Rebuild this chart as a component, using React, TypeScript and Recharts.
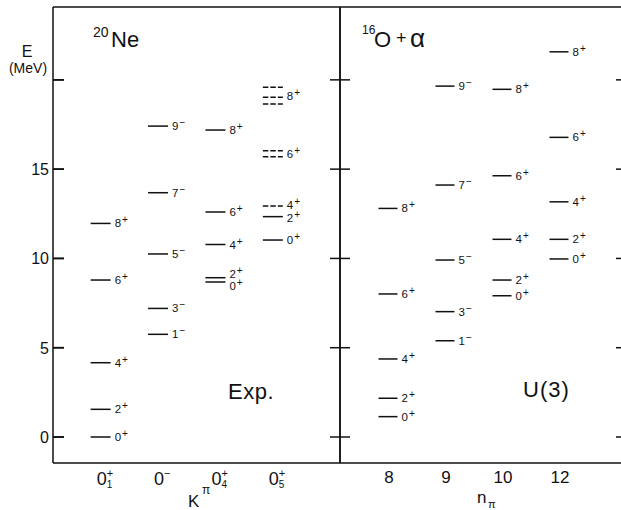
import React from 'react';
import { ComposedChart, Scatter, XAxis, YAxis } from 'recharts';

const kPiMain = ['0', '0', '0', '0'];
const kPiSup = ['+', '−', '+', '+'];
const kPiSub = ['1', '', '4', '5'];

const exp01Energy = [0, 1.55, 4.16, 8.79, 11.96];
const exp01Spin = ['0+', '2+', '4+', '6+', '8+'];
const exp0mEnergy = [5.75, 7.2, 10.25, 13.68, 17.41];
const exp0mSpin = ['1-', '3-', '5-', '7-', '9-'];
const exp04Energy = [8.68, 8.92, 10.78, 12.6, 17.19];
const exp04Spin = ['0+', '2+', '4+', '6+', '8+'];
// 0_5^+ band: the tentative members have several candidate levels
const exp05Energy = [[11.03], [12.34], [12.93], [15.69, 16.03], [18.65, 19.02, 19.58]];
const exp05Spin = ['0+', '2+', '4+', '6+', '8+'];
const exp05Tentative = [false, false, true, true, true];

// 16O + alpha, U(3) limit, grouped by n_pi
const nPiLabels = ['8', '9', '10', '12'];
const n8Energy = [1.14, 2.17, 4.37, 8.01, 12.8];
const n8Spin = ['0+', '2+', '4+', '6+', '8+'];
const n9Energy = [5.39, 7.02, 9.91, 14.11, 19.65];
const n9Spin = ['1-', '3-', '5-', '7-', '9-'];
const n10Energy = [7.91, 8.79, 11.07, 14.63, 19.47];
const n10Spin = ['0+', '2+', '4+', '6+', '8+'];
const n12Energy = [9.97, 11.07, 13.17, 16.78, 21.57];
const n12Spin = ['0+', '2+', '4+', '6+', '8+'];

const energyTicks = [0, 5, 10, 15, 20];
const yDomain = [-1.456, 24.08];

const FONT = '"Liberation Sans", Arial, sans-serif';
const INK = '#111';

type Line = { x: number; E: number; dashed: boolean };
type Tag = { x: number; E: number; spin: string };

function buildBand(x: number, energies: (number | number[])[], spins: string[], tentative?: boolean[]) {
  const lines: Line[] = [];
  const tags: Tag[] = [];
  energies.forEach((e, i) => {
    const list = Array.isArray(e) ? e : [e];
    list.forEach((v) => lines.push({ x, E: v, dashed: !!(tentative && tentative[i]) }));
    tags.push({ x, E: list.reduce((a, b) => a + b, 0) / list.length, spin: spins[i] });
  });
  // keep labels of close-lying levels from overlapping
  tags.sort((a, b) => a.E - b.E);
  const minGap = 0.7;
  for (let i = 1; i < tags.length; i++) {
    const gap = tags[i].E - tags[i - 1].E;
    if (gap < minGap) {
      const push = (minGap - gap) / 2;
      tags[i - 1].E -= push;
      tags[i].E += push;
    }
  }
  return { lines, tags };
}

function merge(bands: { lines: Line[]; tags: Tag[] }[]) {
  return {
    lines: bands.flatMap((b) => b.lines),
    tags: bands.flatMap((b) => b.tags),
  };
}

const expData = merge([
  buildBand(1, exp01Energy, exp01Spin),
  buildBand(2, exp0mEnergy, exp0mSpin),
  buildBand(3, exp04Energy, exp04Spin),
  buildBand(4, exp05Energy, exp05Spin, exp05Tentative),
]);

const u3Data = merge([
  buildBand(1, n8Energy, n8Spin),
  buildBand(2, n9Energy, n9Spin),
  buildBand(3, n10Energy, n10Spin),
  buildBand(4, n12Energy, n12Spin),
]);

const levelShape = (half: number) => (p: any) => (
  <line
    x1={p.cx - half}
    x2={p.cx + half}
    y1={p.cy}
    y2={p.cy}
    stroke={INK}
    strokeWidth={1.5}
    strokeDasharray={p.payload.dashed ? '5.5 2' : undefined}
  />
);

const spinShape = (half: number) => (p: any) => {
  const spin: string = p.payload.spin;
  const sign = spin.endsWith('-') ? '−' : '+';
  return (
    <text x={p.cx + half + 4} y={p.cy + 4} fontSize={11.5} fontFamily={FONT} fill={INK}>
      <tspan>{spin.slice(0, -1)}</tspan>
      <tspan dx={1} dy={-4} fontSize={10}>{sign}</tspan>
    </text>
  );
};

const frameLine = { stroke: INK, strokeWidth: 1.5 };
const tickStroke = { stroke: INK, strokeWidth: 1.6 };

// inward tick marks; len > 0 points right, len < 0 points left
const yTick = (len: number) => (p: any) => (
  <path d={`M${p.x},${p.y}H${p.x + len}`} stroke={INK} strokeWidth={1.5} fill="none" />
);

// mirrored left axis: the built-in tick line points inward, the label sits outside
const MIRROR_TICK = 11;
const energyLabel = (p: any) => {
  const v = p.payload.value;
  return (
    <g>
      <path d={`M${p.x - MIRROR_TICK},${p.y}H${p.x}`} stroke={INK} strokeWidth={1.6} fill="none" />
      {v !== 20 && (
        <text x={p.x - MIRROR_TICK - 4} y={p.y + 6} textAnchor="end" fontSize={16} fontFamily={FONT} fill={INK}>
          {v}
        </text>
      )}
    </g>
  );
};

const kPiTick = (p: any) => {
  const i = Math.round(p.payload.value) - 1;
  return (
    <g fontFamily={FONT} fill={INK}>
      <text x={p.x + 1} y={p.y + 22} textAnchor="middle" fontSize={18}>{kPiMain[i]}</text>
      <text x={p.x + 6} y={p.y + 14} fontSize={11}>{kPiSup[i]}</text>
      {kPiSub[i] && <text x={p.x + 6} y={p.y + 25} fontSize={10}>{kPiSub[i]}</text>}
    </g>
  );
};

const nPiTick = (p: any) => {
  const i = Math.round(p.payload.value) - 1;
  return (
    <text x={p.x + 1} y={p.y + 20} textAnchor="middle" fontSize={17} fontFamily={FONT} fill={INK}>
      {nPiLabels[i]}
    </text>
  );
};

const expRightTick = yTick(-10);
const u3LeftTick = yTick(10);
const u3RightTick = yTick(-5);

function Panel({ data, xDomain, half, width, margin, xTick, mirrorLeft, leftTick, rightTick, rightLine }: any) {
  return (
    <ComposedChart width={width} height={510} margin={margin}>
      <XAxis
        xAxisId="b"
        type="number"
        dataKey="x"
        domain={xDomain}
        ticks={[1, 2, 3, 4]}
        interval={0}
        height={47}
        tickSize={0}
        tickMargin={0}
        tickLine={false}
        axisLine={frameLine}
        tick={xTick}
        allowDataOverflow
      />
      <XAxis
        xAxisId="t"
        orientation="top"
        type="number"
        dataKey="x"
        domain={xDomain}
        ticks={[1, 2, 3, 4]}
        height={1}
        tick={false}
        tickLine={false}
        axisLine={frameLine}
        allowDataOverflow
      />
      {mirrorLeft ? (
        <YAxis
          yAxisId="l"
          type="number"
          dataKey="E"
          domain={yDomain}
          ticks={energyTicks}
          interval={0}
          width={1}
          mirror
          tickSize={MIRROR_TICK}
          tickMargin={0}
          tickLine={tickStroke}
          axisLine={frameLine}
          tick={energyLabel}
          allowDataOverflow
        />
      ) : (
        <YAxis
          yAxisId="l"
          type="number"
          dataKey="E"
          domain={yDomain}
          ticks={energyTicks}
          interval={0}
          width={1}
          tickSize={0}
          tickMargin={0}
          tickLine={false}
          axisLine={frameLine}
          tick={leftTick}
          allowDataOverflow
        />
      )}
      <YAxis
        yAxisId="r"
        orientation="right"
        type="number"
        dataKey="E"
        domain={yDomain}
        ticks={energyTicks}
        interval={0}
        width={1}
        tickSize={0}
        tickMargin={0}
        tickLine={false}
        axisLine={rightLine ? frameLine : false}
        tick={rightTick}
        allowDataOverflow
      />
      <Scatter xAxisId="b" yAxisId="l" data={data.lines} shape={levelShape(half)} isAnimationActive={false} />
      <Scatter xAxisId="b" yAxisId="l" data={data.tags} shape={spinShape(half)} isAnimationActive={false} />
    </ComposedChart>
  );
}

export default function App() {
  return (
    <div style={{ position: 'absolute', left: 0, top: 0, width: 621, height: 510, background: '#fff', overflow: 'hidden' }}>
      <div style={{ position: 'absolute', left: 0, top: 0 }}>
        <Panel
          data={expData}
          xDomain={[0.17, 5.17]}
          half={10}
          width={343}
          margin={{ top: 6, right: 2, bottom: 0, left: 53 }}
          xTick={kPiTick}
          mirrorLeft
          rightTick={expRightTick}
          rightLine
        />
      </div>
      <div style={{ position: 'absolute', left: 338, top: 0 }}>
        <Panel
          data={u3Data}
          xDomain={[0.158, 5.088]}
          half={9.5}
          width={287}
          margin={{ top: 6, right: 3, bottom: 0, left: 1 }}
          xTick={nPiTick}
          mirrorLeft={false}
          leftTick={u3LeftTick}
          rightTick={u3RightTick}
          rightLine={false}
        />
      </div>
      <svg
        width={621}
        height={510}
        style={{ position: 'absolute', left: 0, top: 0, pointerEvents: 'none' }}
        fontFamily={FONT}
        fill={INK}
      >
        <text x={27} y={57} textAnchor="middle" fontSize={16}>E</text>
        <text x={28} y={73} textAnchor="middle" fontSize={14}>(MeV)</text>

        <text x={93} y={37} fontSize={14}>20</text>
        <text x={111} y={47} fontSize={22}>Ne</text>
        <text x={228} y={399} fontSize={22} letterSpacing={0.5}>Exp.</text>

        <text x={362} y={34} fontSize={12}>16</text>
        <text x={374} y={47} fontSize={22}>O</text>
        <text x={396} y={44} fontSize={18}>+</text>
        <text x={410} y={47} fontSize={26}>α</text>
        <text x={523} y={397} fontSize={22} letterSpacing={1}>U(3)</text>

        <text x={188} y={507} fontSize={17}>K</text>
        <text x={202} y={494} fontSize={12}>π</text>
        <text x={477} y={503} fontSize={17}>n</text>
        <text x={488} y={508} fontSize={11}>π</text>
      </svg>
    </div>
  );
}
